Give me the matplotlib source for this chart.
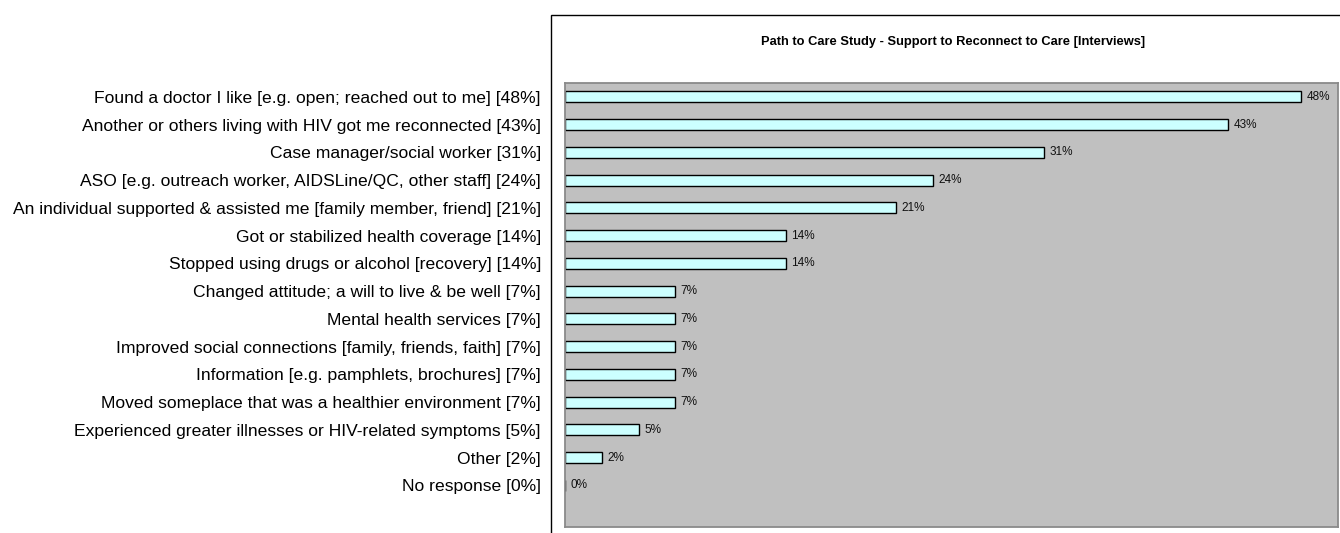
import matplotlib
matplotlib.use("Agg")
import matplotlib.pyplot as plt
from matplotlib.patches import Rectangle

plt.rcParams['font.family'] = ['Liberation Sans', 'DejaVu Sans']

categories = [
    "Found a doctor I like [e.g. open; reached out to me] [48%]",
    "Another or others living with HIV got me reconnected [43%]",
    "Case manager/social worker [31%]",
    "ASO [e.g. outreach worker, AIDSLine/QC, other staff] [24%]",
    "An individual supported & assisted me [family member, friend] [21%]",
    "Got or stabilized health coverage [14%]",
    "Stopped using drugs or alcohol [recovery] [14%]",
    "Changed attitude; a will to live & be well [7%]",
    "Mental health services [7%]",
    "Improved social connections [family, friends, faith] [7%]",
    "Information [e.g. pamphlets, brochures] [7%]",
    "Moved someplace that was a healthier environment [7%]",
    "Experienced greater illnesses or HIV-related symptoms [5%]",
    "Other [2%]",
    "No response [0%]",
]
values = [47.6, 42.9, 31.0, 23.8, 21.4, 14.3, 14.3, 7.1, 7.1, 7.1, 7.1, 7.1, 4.8, 2.4, 0.0]
value_labels = ["48%", "43%", "31%", "24%", "21%", "14%", "14%", "7%", "7%", "7%",
                "7%", "7%", "5%", "2%", "0%"]
title = "Path to Care Study - Support to Reconnect to Care [Interviews]"

W, H = 1340, 533
fig = plt.figure(figsize=(W / 100, H / 100), dpi=100)

# outer chart box (extends beyond right/bottom edge)
fig.patches.append(Rectangle((551 / W, -0.1), 1.0, 1 - 15 / H + 0.1,
                             transform=fig.transFigure, fill=False,
                             edgecolor='black', linewidth=1.0, zorder=0))

ax = fig.add_axes([565 / W, 1 - 527 / H, (1338 - 565) / W, (527 - 83) / H])
ax.set_facecolor('#C0C0C0')
for s in ax.spines.values():
    s.set_color('#8A8A8A')
    s.set_linewidth(1.3)

y = list(range(len(categories)))
ax.barh(y, values, height=0.39, color='#CCFFFF', edgecolor='black', linewidth=1.0)
for yi, v, lab in zip(y, values, value_labels):
    ax.text(v + 0.35, yi, lab, va='center', ha='left', fontsize=8.5, color='#111111')

ax.set_xlim(0, 50)
ax.set_ylim(len(categories) + 0.5, -0.5)
ax.set_xticks([])
ax.set_yticks(y)
ax.set_yticklabels(categories, fontsize=12.6)
ax.tick_params(axis='y', length=0, pad=17.3)

fig.text(953 / W, 1 - 42 / H, title, ha='center', va='center',
         fontsize=9.3, fontweight='bold')

fig.savefig("out.png", dpi=100)
